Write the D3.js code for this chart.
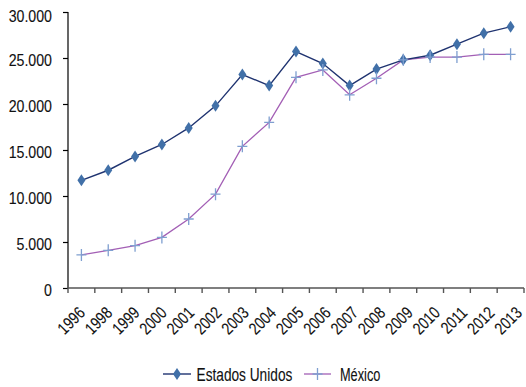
<!DOCTYPE html>
<html><head><meta charset="utf-8">
<script src="https://cdn.jsdelivr.net/npm/d3@7"></script>
<style>
body{margin:0;background:#fff;}
text{font-family:"Liberation Sans",Arial,sans-serif;fill:#111;stroke:#111;stroke-width:0.12px;}
</style></head>
<body><svg id="c" width="526" height="387"></svg>
<script>
const years = ["1996","1998","1999","2000","2001","2002","2003","2004","2005","2006","2007","2008","2009","2010","2011","2012","2013"];
const usa = [11700,12800,14300,15600,17400,19800,23200,22000,25700,24400,22000,23800,24800,25300,26500,27700,28400];
const mexico = [3600,4100,4600,5500,7500,10200,15400,18000,22900,23700,21000,22800,24800,25100,25100,25400,25400];
const yTicks = [0,5000,10000,15000,20000,25000,30000];
const seriesNames = ["Estados Unidos","México"];

const svg = d3.select("#c");
const x = d3.scaleBand().domain(years).range([68,524]);
const y = d3.scaleLinear().domain([0,30000]).range([288,12]);
const fmt = d => d3.format(",")(d).replace(/,/g,".");

// y axis
const ya = svg.append("g").attr("transform","translate(68,0)")
  .call(d3.axisLeft(y).tickValues(yTicks).tickFormat(fmt).tickSize(5).tickPadding(0));
ya.select(".domain").attr("d","M0,12V288").attr("stroke","#000").attr("stroke-width",1.2);
ya.selectAll(".tick line").attr("stroke","#000").attr("stroke-width",1.2);
ya.selectAll(".tick text").attr("x",null).attr("dy",null)
  .attr("transform",d=>`translate(-16,${d===30000?9.5:7}) scale(0.86,1)`)
  .style("font-size","16.5px");

// x axis
const xa = svg.append("g").attr("transform","translate(0,288)")
  .call(d3.axisBottom(x).tickSize(0).tickFormat(""));
xa.select(".domain").attr("d","M68,0H524").attr("stroke","#555").attr("stroke-width",1.4);
const bounds = years.map(yy=>x(yy)).concat([524]);
xa.selectAll(".bt").data(bounds).enter().append("line").attr("class","bt")
  .attr("x1",d=>d).attr("x2",d=>d).attr("y1",0).attr("y2",5).attr("stroke","#555").attr("stroke-width",1.4);
const lx = d3.scalePoint().domain(years).range([86,523]);
svg.append("g").selectAll("text").data(years).enter().append("text")
  .attr("transform",d=>`translate(${lx(d)},314) rotate(-45) scale(0.8,1)`)
  .attr("text-anchor","end")
  .style("font-size","17px").text(d=>d);

const cx = d => x(d)+x.bandwidth()/2;
const line = d3.line().x((d,i)=>cx(years[i])).y(d=>y(d));

svg.append("path").datum(mexico).attr("d",line).attr("fill","none").attr("stroke","#a35fb5").attr("stroke-width",1.3);
svg.append("path").datum(usa).attr("d",line).attr("fill","none").attr("stroke","#1f3370").attr("stroke-width",1.4);

const diamond = "M0,-6L4,0L0,6L-4,0Z";
const plus = "M-5,0H5M0,-6V6";
svg.append("g").selectAll("path").data(usa).enter().append("path")
  .attr("transform",(d,i)=>`translate(${cx(years[i])},${y(d)})`).attr("d",diamond).attr("fill","#4170a8");
svg.append("g").selectAll("path").data(mexico).enter().append("path")
  .attr("transform",(d,i)=>`translate(${cx(years[i])},${y(d)})`).attr("d",plus).attr("stroke","#7f9fd0").attr("stroke-width",1.3).attr("fill","none");

// legend
const lg = svg.append("g");
lg.append("line").attr("x1",163).attr("x2",191).attr("y1",374).attr("y2",374).attr("stroke","#1f3370").attr("stroke-width",1.4);
lg.append("path").attr("transform","translate(177,374)").attr("d",diamond).attr("fill","#4170a8");
lg.append("text").attr("transform","translate(196.5,380.5) scale(0.74,1)").style("font-size","18.5px").text(seriesNames[0]);
lg.append("line").attr("x1",304).attr("x2",331).attr("y1",374).attr("y2",374).attr("stroke","#a35fb5").attr("stroke-width",1.3);
lg.append("path").attr("transform","translate(317.5,374)").attr("d",plus).attr("stroke","#7f9fd0").attr("stroke-width",1.3);
lg.append("text").attr("transform","translate(340,380.5) scale(0.69,1)").style("font-size","18.5px").text(seriesNames[1]);
</script></body></html>
